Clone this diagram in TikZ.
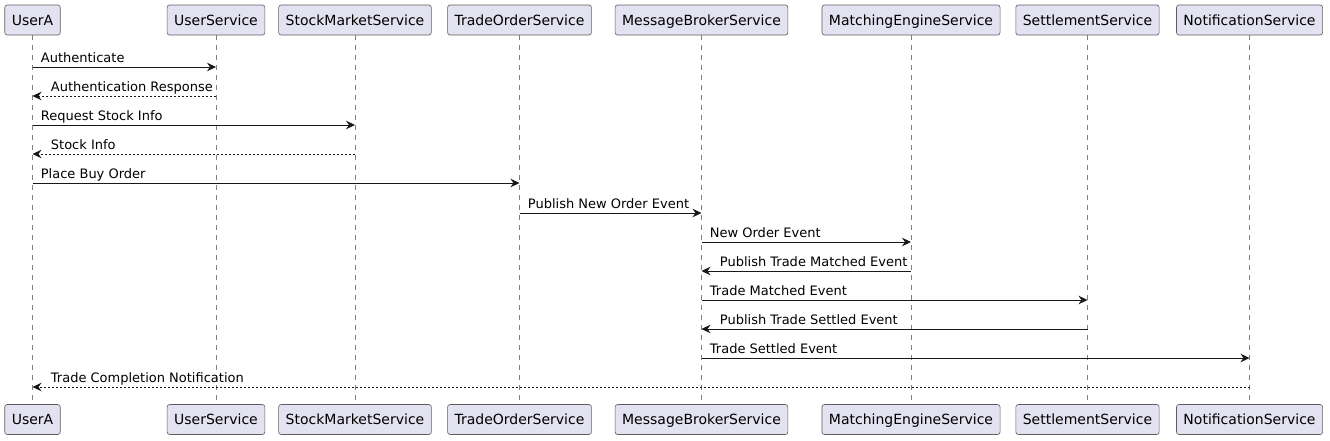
\documentclass[tikz,border=0pt]{standalone}
\usepackage{fontspec}
\setmainfont{DejaVu Sans}
\usepackage{xcolor}
\usetikzlibrary{arrows.meta}

\definecolor{partfill}{HTML}{E2E2F0}
\definecolor{partline}{HTML}{5E5E5E}
\definecolor{lifegray}{HTML}{808080}
\definecolor{ink}{HTML}{181818}

\tikzset{
  participant/.style={draw=partline, fill=partfill, rounded corners=2.5pt, line width=0.6pt,
    minimum height=30pt, inner xsep=7pt, text height=12.5pt, text depth=2pt,
    font=\fontsize{14pt}{16pt}\selectfont},
  lifeline/.style={draw=lifegray, line width=0.6pt, dash pattern=on 5pt off 5pt},
  msg/.style={draw=ink, line width=0.8pt, -{Stealth[length=9pt,width=8.5pt,inset=3pt]}},
  reply/.style={msg, dash pattern=on 2pt off 2pt},
  lbl/.style={font=\fontsize{13pt}{15pt}\selectfont, inner sep=0pt, anchor=base west, yshift=5pt}
}

\begin{document}
\begin{tikzpicture}[x=1pt, y=-1pt]
    \useasboundingbox (0,0) rectangle (1330,440);
    % Participants (top)
    \node[participant] (ua) at (32.5,20)   {UserA};
    \node[participant] (us) at (216,20)    {UserService};
    \node[participant] (sm) at (355,20)    {StockMarketService};
    \node[participant] (to) at (519.5,20)  {TradeOrderService};
    \node[participant] (mb) at (701.5,20)  {MessageBrokerService};
    \node[participant] (me) at (911,20)    {MatchingEngineService};
    \node[participant] (st) at (1087.5,20) {SettlementService};
    \node[participant] (ns) at (1249.5,20) {NotificationService};
    % Participants (bottom)
    \node[participant] (uab) at (32.5,419.5)   {UserA};
    \node[participant] (usb) at (216,419.5)    {UserService};
    \node[participant] (smb) at (355,419.5)    {StockMarketService};
    \node[participant] (tob) at (519.5,419.5)  {TradeOrderService};
    \node[participant] (mbb) at (701.5,419.5)  {MessageBrokerService};
    \node[participant] (meb) at (911,419.5)    {MatchingEngineService};
    \node[participant] (stb) at (1087.5,419.5) {SettlementService};
    \node[participant] (nsb) at (1249.5,419.5) {NotificationService};
    % Lifelines
    \draw[lifeline] (ua) -- (uab);
    \draw[lifeline] (us) -- (usb);
    \draw[lifeline] (sm) -- (smb);
    \draw[lifeline] (to) -- (tob);
    \draw[lifeline] (mb) -- (mbb);
    \draw[lifeline] (me) -- (meb);
    \draw[lifeline] (st) -- (stb);
    \draw[lifeline] (ns) -- (nsb);
    % Messages
    \draw[msg]   (ua |- 0,67)  -- node[lbl, pos=0, xshift=8pt]  {Authenticate} (us |- 0,67);
    \draw[reply] (us |- 0,96)  -- node[lbl, pos=1, xshift=18pt] {Authentication Response} (ua |- 0,96);
    \draw[msg]   (ua |- 0,125) -- node[lbl, pos=0, xshift=8pt]  {Request Stock Info} (sm |- 0,125);
    \draw[reply] (sm |- 0,154) -- node[lbl, pos=1, xshift=18pt] {Stock Info} (ua |- 0,154);
    \draw[msg]   (ua |- 0,183) -- node[lbl, pos=0, xshift=8pt]  {Place Buy Order} (to |- 0,183);
    \draw[msg]   (to |- 0,213) -- node[lbl, pos=0, xshift=8pt]  {Publish New Order Event} (mb |- 0,213);
    \draw[msg]   (mb |- 0,242) -- node[lbl, pos=0, xshift=8pt]  {New Order Event} (me |- 0,242);
    \draw[msg]   (me |- 0,271) -- node[lbl, pos=1, xshift=18pt] {Publish Trade Matched Event} (mb |- 0,271);
    \draw[msg]   (mb |- 0,300) -- node[lbl, pos=0, xshift=8pt]  {Trade Matched Event} (st |- 0,300);
    \draw[msg]   (st |- 0,329) -- node[lbl, pos=1, xshift=18pt] {Publish Trade Settled Event} (mb |- 0,329);
    \draw[msg]   (mb |- 0,358) -- node[lbl, pos=0, xshift=8pt]  {Trade Settled Event} (ns |- 0,358);
    \draw[reply] (ns |- 0,387) -- node[lbl, pos=1, xshift=18pt] {Trade Completion Notification} (ua |- 0,387);
\end{tikzpicture}
\end{document}
